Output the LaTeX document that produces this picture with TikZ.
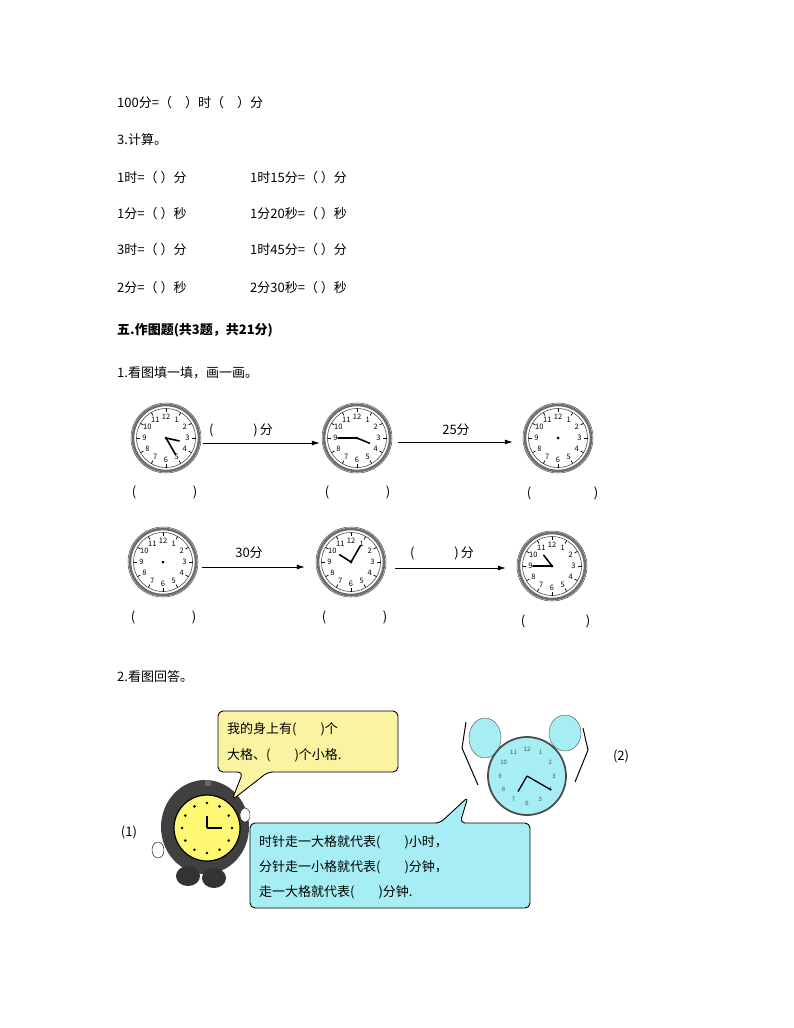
\documentclass[tikz,border=0pt]{standalone}
\usepackage{fontspec}
\setmainfont{Noto Sans CJK SC}
\usetikzlibrary{arrows.meta,calc}
\definecolor{ringgray}{HTML}{6E6E6E}
\definecolor{callyel}{HTML}{FAF3A2}
\definecolor{callblue}{HTML}{A6EEF4}
\tikzset{
  txt/.style={anchor=west,inner sep=0pt,font=\fontsize{13}{15}\selectfont},
  par/.style={inner sep=0pt,font=\fontsize{13}{15}\selectfont},
  clk/.style={circle,minimum size=68pt,inner sep=0pt},
  arr/.style={-{Latex[length=8pt,width=5pt]},line width=0.8pt},
  hand/.style={line width=1.6pt,line cap=round},
}
% angles: compass, clockwise from 12 (y axis points down)
\newcommand{\myclock}[6]{%
  \node[clk] (#1) at (#2,#3) {};
  \draw[ringgray,line width=2.6pt] (#1.center) circle (33);
  \draw[black!70,line width=0.6pt] (#1.center) circle (29.5);
  \draw[black!70,line width=0.5pt] (#1.center) circle (35);
  \foreach \k in {1,...,12}{
    \pgfmathsetmacro{\ang}{30*\k-90}
    \draw[line width=0.7pt] ($(#1.center)+(\ang:29.5)$) -- ($(#1.center)+(\ang:26)$);
    \node[inner sep=0pt,font=\fontsize{7.5}{8}\selectfont] at ($(#1.center)+(\ang:21.5)$) {\k};
  }
  \fill (#1.center) circle (1.5);
  \ifx&#5&\else
    \draw[hand] (#1.center) -- ++({#5-90}:13.5);
    \draw[hand] (#1.center) -- ++({#6-90}:19);
  \fi
}
\begin{document}
\begin{tikzpicture}[x=1pt,y=-1pt]
\useasboundingbox (0,0) rectangle (794,1028);
\node[txt] (t1) at (117,103) {100分=（\quad ）时（\quad ）分};
\node[txt] (t2) at (117,140) {3.计算。};
\node[txt] (r1a) at (117,178) {1时=（ ）分};
\node[txt] (r1b) at (250,178) {1时15分=（ ）分};
\node[txt] (r2a) at (117,214) {1分=（ ）秒};
\node[txt] (r2b) at (250,214) {1分20秒=（ ）秒};
\node[txt] (r3a) at (117,250) {3时=（ ）分};
\node[txt] (r3b) at (250,250) {1时45分=（ ）分};
\node[txt] (r4a) at (117,288) {2分=（ ）秒};
\node[txt] (r4b) at (250,288) {2分30秒=（ ）秒};
\node[txt,font=\fontsize{13}{15}\selectfont\bfseries] (h5) at (117,330) {五.作图题(共3题，共21分)};
\node[txt] (q1) at (117,373) {1.看图填一填，画一画。};
\myclock{c1}{166}{438}{}{102.5}{150}
\myclock{c2}{357}{438}{}{112.5}{270}
\myclock{c3}{558}{438}{}{}{}
\myclock{c4}{163}{562}{}{}{}
\myclock{c5}{351}{562}{}{302.5}{30}
\myclock{c6}{552}{566}{}{322.5}{270}
\draw[arr] ($(c1.east)+(3,5)$) -- ($(c2.west)+(-3,5)$);
\draw[arr] ($(c2.east)+(7,4)$) -- ($(c3.west)+(-11,4)$);
\draw[arr] ($(c4.east)+(5,5)$) -- ($(c5.west)+(-12,5)$);
\draw[arr] ($(c5.east)+(10,6)$) -- ($(c6.west)+(-12,2)$);
\node[par] (l1) at (241,430) {(\hspace{40pt})\,分};
\node[par] (l2) at (456,430) {25分};
\node[par] (l3) at (249,553) {30分};
\node[par] (l4) at (442,553) {(\hspace{40pt})\,分};
\foreach \n/\xa/\xb/\yy in {p1/134/195/492,p2/327/388/492,p3/529/596/493,p4/133/194/617,p5/324/385/617,p6/523/588/621}{
  \node[par] (\n a) at (\xa,\yy) {(};
  \node[par] (\n b) at (\xb,\yy) {)};
}
\node[txt] (q2) at (117,677) {2.看图回答。};
% cartoon clock 1
\fill[black!75] (205,827) ellipse (44 and 47);
\fill[black!80] (188,876) ellipse (12 and 10);
\fill[black!80] (214,878) ellipse (12 and 10);
\fill[black!60] (205,780) rectangle (211,786);
\node[circle,fill=yellow!55,draw=black,line width=1.2pt,minimum size=66pt] (y1) at (207,828) {};
\foreach \k in {1,...,12}{\fill ($(y1.center)+(30*\k-90:25)$) circle (1.4);}
\draw[line width=2.5pt] (y1.center) -- ++(0:15);
\draw[line width=2.5pt] (y1.center) -- ++(-90:12);
\draw[fill=white] (158,850) ellipse (6 and 8);
\draw[fill=white] (245,815) ellipse (5 and 7);
% cartoon clock 2
\fill[callblue,draw=black!70] (485,738) ellipse (16 and 20);
\fill[callblue,draw=black!70] (565,733) ellipse (16 and 18);
\draw[line width=1pt] (466,722) -- (462,748) -- (478,785);
\draw[line width=1pt] (583,728) -- (588,750) -- (575,782);
\node[circle,fill=callblue,draw=black!70,line width=1.8pt,minimum size=78pt] (b1) at (527,776) {};
\foreach \k in {1,...,12}{\node[inner sep=0pt,font=\fontsize{6}{7}\selectfont,black!70] at ($(b1.center)+(30*\k-90:27)$) {\k};}
\draw[line width=1.3pt] (b1.center) -- ++(120:18);
\draw[line width=1.3pt] (b1.center) -- ++(30:28);
\node[par] (n1) at (129,832) {(1)};
\node[par] (n2) at (621,756) {(2)};
% callouts
\draw[fill=callyel,line width=0.9pt,rounded corners=5pt]
  (218,711) -- (398,711) -- (398,772) -- (268,772) -- (232,800) -- (243,772) -- (218,772) -- cycle;
\node[txt] (s1) at (227,729) {我的身上有(\hspace{24pt})个};
\node[txt] (s2) at (227,755) {大格、(\hspace{24pt})个小格.};
\draw[fill=callblue,line width=0.9pt,rounded corners=5pt]
  (250,823) -- (440,823) -- (468,797) -- (460,823) -- (530,823) -- (530,908) -- (250,908) -- cycle;
\node[txt] (s3) at (259,842) {时针走一大格就代表(\hspace{24pt})小时，};
\node[txt] (s4) at (259,867) {分针走一小格就代表(\hspace{24pt})分钟，};
\node[txt] (s5) at (259,892) {走一大格就代表(\hspace{24pt})分钟.};
\end{tikzpicture}
\end{document}
